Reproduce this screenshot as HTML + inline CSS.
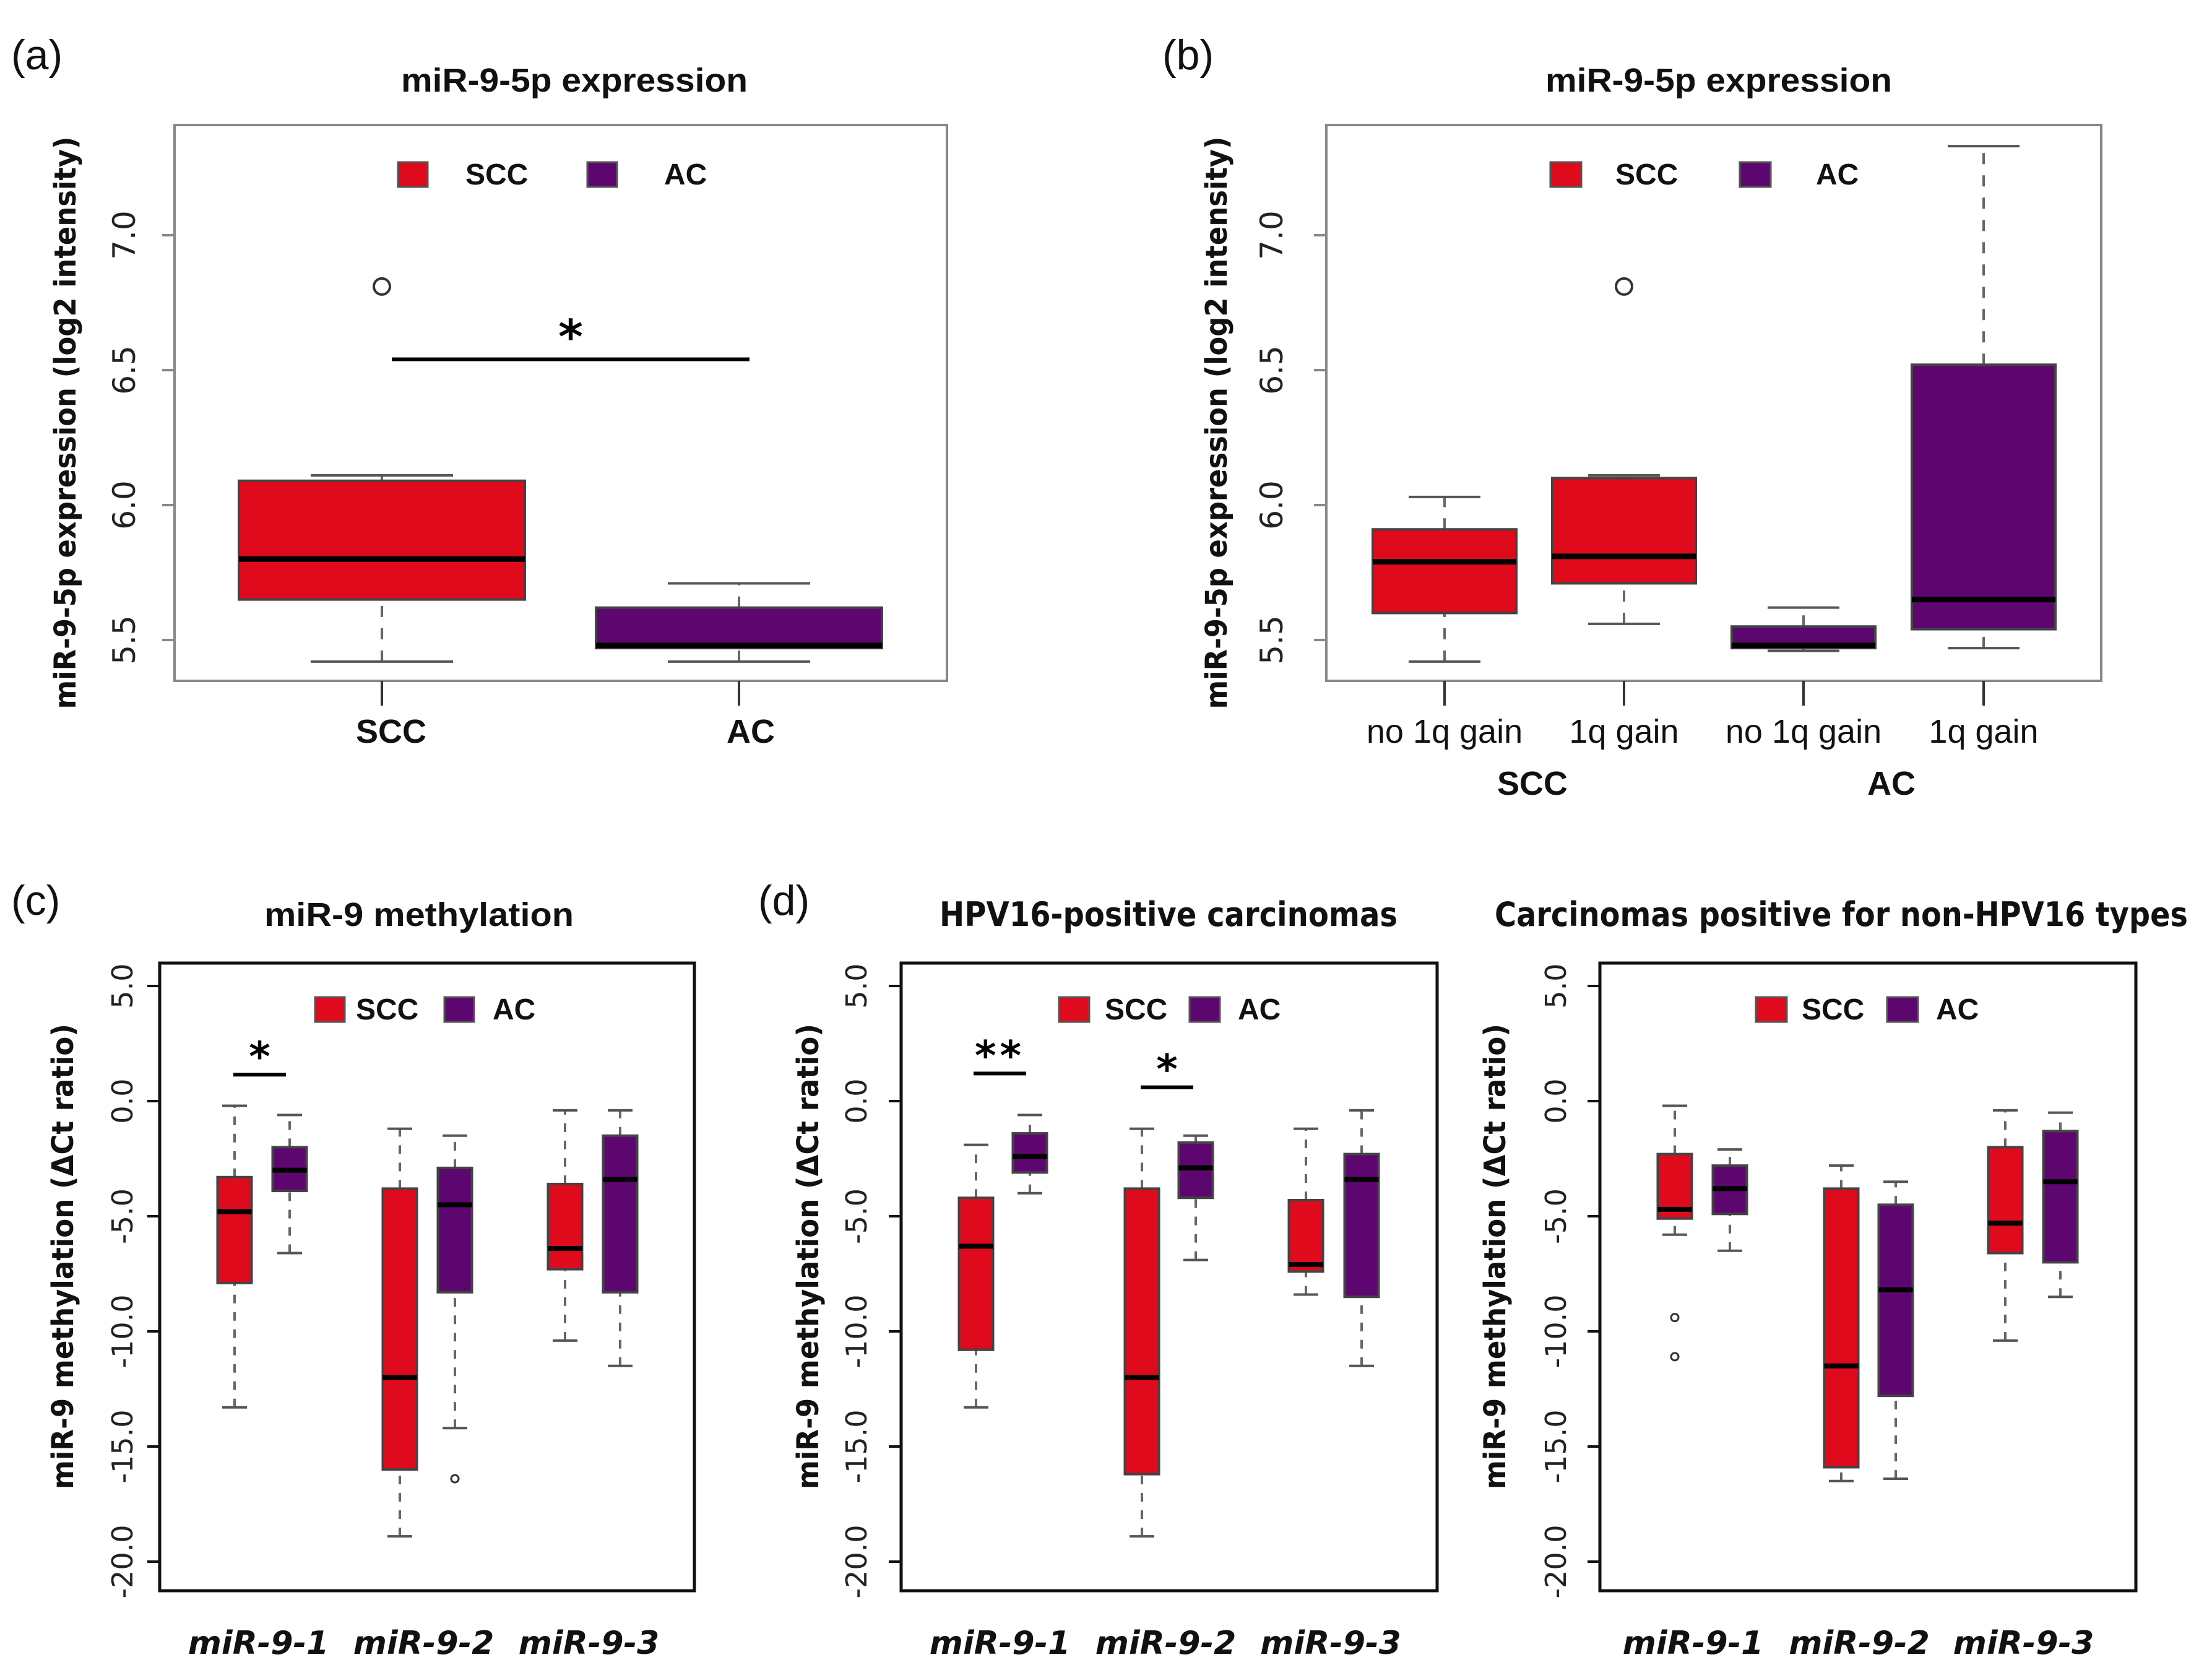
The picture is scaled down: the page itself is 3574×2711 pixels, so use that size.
<!DOCTYPE html>
<html><head><meta charset="utf-8">
<style>
html,body{margin:0;padding:0;background:#fff;}
svg{display:block;}
</style></head>
<body>
<svg id="fig" width="3574" height="2711" viewBox="0 0 3574 2711" xmlns="http://www.w3.org/2000/svg"></svg>
<script>
// ---------- data ----------
// panel a
const aCategories = ["SCC","AC"];
const aStats = [[5.42,5.65,5.80,6.09,6.11],[5.42,5.47,5.48,5.62,5.71]];
const aOutliers = [[6.81],[]];
const aTicks = [5.5,6.0,6.5,7.0];
// panel b
const bCategories = ["no 1q gain","1q gain","no 1q gain","1q gain"];
const bStats = [[5.42,5.60,5.79,5.91,6.03],[5.56,5.71,5.81,6.10,6.11],[5.46,5.47,5.48,5.55,5.62],[5.47,5.54,5.65,6.52,7.33]];
const bOutliers = [[],[6.81],[],[]];
const bGroups = ["SCC","SCC","AC","AC"];
// panel c
const geneCategories = ["miR-9-1","miR-9-2","miR-9-3"];
const cStats = [[-13.3,-7.9,-4.8,-3.3,-0.2],[-6.6,-3.9,-3.0,-2.0,-0.6],[-18.9,-16.0,-12.0,-3.8,-1.2],[-14.2,-8.3,-4.5,-2.9,-1.5],[-10.4,-7.3,-6.4,-3.6,-0.4],[-11.5,-8.3,-3.4,-1.5,-0.4]];
const cOutliers = [[],[],[],[-16.4],[],[]];
// panel d
const dStats = [[-13.3,-10.8,-6.3,-4.2,-1.9],[-4.0,-3.1,-2.4,-1.4,-0.6],[-18.9,-16.2,-12.0,-3.8,-1.2],[-6.9,-4.2,-2.9,-1.8,-1.5],[-8.4,-7.4,-7.1,-4.3,-1.2],[-11.5,-8.5,-3.4,-2.3,-0.4]];
const dOutliers = [[],[],[],[],[],[]];
// panel e
const eStats = [[-5.8,-5.1,-4.7,-2.3,-0.2],[-6.5,-4.9,-3.8,-2.8,-2.1],[-16.5,-15.9,-11.5,-3.8,-2.8],[-16.4,-12.8,-8.2,-4.5,-3.5],[-10.4,-6.6,-5.3,-2.0,-0.4],[-8.5,-7.0,-3.5,-1.3,-0.5]];
const eOutliers = [[-9.4,-11.1],[],[],[],[],[]];
const methTicks = [5,0,-5,-10,-15,-20];
const methTickLabels = ["5.0","0.0","-5.0","-10.0","-15.0","-20.0"];

// ---------- helpers ----------
const NS="http://www.w3.org/2000/svg";
const svg=document.getElementById('fig');
const RED="#df0a1b", PUR="#5e0670";
function mk(tag,attrs,parent){const e=document.createElementNS(NS,tag);for(const k in attrs)e.setAttribute(k,attrs[k]);(parent||svg).appendChild(e);return e;}
function txt(s,attrs,parent){const e=mk('text',attrs,parent);e.textContent=s;return e;}

function drawPanel(p){
  const g=mk('g',{});
  
  
  const y=v=>p.y0+(v-p.v0)*(p.y1-p.y0)/(p.v1-p.v0);
  const thick=p.bottom;
  const fr=mk('rect',{x:p.L,y:p.T,width:p.R-p.L,height:p.B-p.T,fill:'none',stroke:thick?'#111':'#888',"stroke-width":thick?5:4},g);
  
  
  p.ticks.forEach((t,i)=>{
    const yy=y(t);
    const tl=mk('line',{x1:p.L-20,x2:p.L,y1:yy,y2:yy,stroke:thick?'#111':'#888',"stroke-width":4},g);
    
    
    const lab=txt(p.tickLabels[i],{x:0,y:0,transform:`translate(${p.tickX},${yy}) rotate(-90)`,"text-anchor":"middle","font-family":"DejaVu Sans, sans-serif","font-size":p.tickFs,fill:'#222'},g);
    
    
  });
  const yt=txt(p.ytitle,{x:0,y:0,transform:`translate(${p.ytX},${(p.T+p.B)/2+p.ytDy}) rotate(-90)`,"text-anchor":"middle","font-family":"DejaVu Sans, sans-serif","font-weight":"bold","font-size":p.ytFs,fill:'#111',textLength:p.ytLen,lengthAdjust:"spacingAndGlyphs"},g);
  
  
  const tt=txt(p.title,{x:p.titleX,y:p.titleY,"text-anchor":"middle","font-family":p.titleFont,"font-weight":"bold","font-size":p.titleFs,fill:'#111',textLength:p.titleLen,lengthAdjust:"spacingAndGlyphs"},g);
  
  
  if(p.label){
    const pl=txt(p.label,{x:p.labelX,y:p.labelY,"font-family":"Liberation Sans, sans-serif","font-size":68,fill:'#111'},g);
    
    
  }
  p.legend.forEach((l,i)=>{
    const r=mk('rect',{x:l.x,y:l.y,width:l.w,height:l.h,fill:i?PUR:RED,stroke:'#555',"stroke-width":3},g);
    
    
    const t=txt(i?'AC':'SCC',{x:l.tx,y:l.y+l.h-4,"font-family":"Liberation Sans, sans-serif","font-weight":"bold","font-size":p.legFs,fill:'#111'},g);
    
    
  });
  p.stats.forEach((s,i)=>{
    const cx=p.centers[i], hw=p.bw/2, col=p.colors[i];
    const bg=mk('g',{},g);
    
    
    const dash=thick?'14,14':'18,18';
    mk('line',{x1:cx,x2:cx,y1:y(s[0]),y2:y(s[1]),stroke:'#666',"stroke-width":4,"stroke-dasharray":dash},bg);
    mk('line',{x1:cx,x2:cx,y1:y(s[3]),y2:y(s[4]),stroke:'#666',"stroke-width":4,"stroke-dasharray":dash},bg);
    mk('line',{x1:cx-p.cap,x2:cx+p.cap,y1:y(s[0]),y2:y(s[0]),stroke:'#555',"stroke-width":4},bg);
    mk('line',{x1:cx-p.cap,x2:cx+p.cap,y1:y(s[4]),y2:y(s[4]),stroke:'#555',"stroke-width":4},bg);
    mk('rect',{x:cx-hw,y:y(s[3]),width:p.bw,height:y(s[1])-y(s[3]),fill:col,stroke:'#444',"stroke-width":4},bg);
    mk('line',{x1:cx-hw,x2:cx+hw,y1:y(s[2]),y2:y(s[2]),stroke:'#000',"stroke-width":thick?8:9},bg);
    (p.outliers[i]||[]).forEach(o=>{
      const c=mk('circle',{cx:cx,cy:y(o),r:p.outR,fill:'none',stroke:'#333',"stroke-width":thick?3:4},bg);
      
      
    });
  });
  p.xlabels.forEach(l=>{
    const t=txt(l.s,{x:l.x,y:l.y,"text-anchor":"middle","font-family":l.font,"font-weight":l.bold?'bold':'normal',"font-style":l.italic?'italic':'normal',"font-size":l.fs,fill:'#111'},g);
    
    
  });
  (p.xticks||[]).forEach(x=>{
    const l=mk('line',{x1:x,x2:x,y1:p.B,y2:p.B+40,stroke:'#333',"stroke-width":4},g);
    
    
  });
  (p.sig||[]).forEach(sg=>{
    const yy=y(sg.v);
    const l=mk('line',{x1:sg.x1,x2:sg.x2,y1:yy,y2:yy,stroke:'#000',"stroke-width":sg.w||6},g);
    
    
    const t=txt(sg.s,{x:(sg.x1+sg.x2)/2,y:yy-sg.dy,"text-anchor":"middle","font-family":"DejaVu Sans, sans-serif","font-weight":"bold","font-size":sg.fs,fill:'#000',"letter-spacing":sg.ls||0},g);
    
    
  });
}

drawPanel({name:'panel-a',label:'(a)',labelX:18,labelY:112,
  L:282,R:1530,T:202,B:1100,y0:816,v0:6,y1:380,v1:7,
  ticks:aTicks,tickLabels:aTicks.map(t=>t.toFixed(1)),tickX:218,tickFs:50,
  ytitle:'miR-9-5p expression (log2 intensity)',ytX:122,ytDy:32,ytFs:48,ytLen:925,
  title:'miR-9-5p expression',titleX:928,titleY:148,titleFont:'Liberation Sans, sans-serif',titleFs:54,titleLen:560,
  legend:[{x:643,y:262,w:48,h:40,tx:752},{x:949,y:262,w:48,h:40,tx:1073}],legFs:48,
  stats:aStats,outliers:aOutliers,centers:[617,1194],bw:462,cap:115,colors:[RED,PUR],outR:13,
  xticks:[617,1194],
  xlabels:[{s:aCategories[0],x:632,y:1200,fs:54,bold:1,font:'Liberation Sans, sans-serif'},{s:aCategories[1],x:1213,y:1200,fs:54,bold:1,font:'Liberation Sans, sans-serif'}],
  sig:[{v:6.54,x1:633,x2:1211,s:'*',dy:10,fs:76}]
});
const bCenters=[2334,2624,2914,3205];
drawPanel({name:'panel-b',label:'(b)',labelX:1878,labelY:112,
  L:2143,R:3395,T:202,B:1100,y0:816,v0:6,y1:380,v1:7,
  ticks:aTicks,tickLabels:aTicks.map(t=>t.toFixed(1)),tickX:2072,tickFs:50,
  ytitle:'miR-9-5p expression (log2 intensity)',ytX:1982,ytDy:32,ytFs:48,ytLen:925,
  title:'miR-9-5p expression',titleX:2777,titleY:148,titleFont:'Liberation Sans, sans-serif',titleFs:54,titleLen:560,
  legend:[{x:2505,y:262,w:50,h:40,tx:2610},{x:2811,y:262,w:50,h:40,tx:2934}],legFs:48,
  stats:bStats,outliers:bOutliers,centers:bCenters,bw:232,cap:58,colors:bGroups.map(g=>g==='SCC'?RED:PUR),outR:13,
  xticks:bCenters,
  xlabels:bCategories.map((c,i)=>({s:c,x:bCenters[i],y:1200,fs:54,font:'Liberation Sans, sans-serif'})).concat([
    {s:'SCC',x:2476,y:1284,fs:54,bold:1,font:'Liberation Sans, sans-serif'},{s:'AC',x:3056,y:1284,fs:54,bold:1,font:'Liberation Sans, sans-serif'}])
});
function bottomPanel(o){
  drawPanel(Object.assign({
    T:1556,B:2570,y0:1779,v0:0,y1:1593,v1:5,
    ticks:methTicks,tickLabels:methTickLabels,tickFs:46,
    ytitle:'miR-9 methylation (ΔCt ratio)',ytDy:-33,ytFs:48,ytLen:752,
    titleY:1496,titleFs:54,legFs:48,
    bw:55,cap:20,colors:[RED,PUR,RED,PUR,RED,PUR],outR:6,bottom:true
  },o));
}
const cC=[379,468,646,735,913,1002];
bottomPanel({name:'panel-c',label:'(c)',labelX:18,labelY:1478,L:258,R:1122,tickX:214,ytX:118,
  title:'miR-9 methylation',titleX:677,titleFont:'Liberation Sans, sans-serif',titleLen:500,
  legend:[{x:509,y:1611,w:48,h:40,tx:575},{x:718,y:1611,w:48,h:40,tx:796}],
  stats:cStats,outliers:cOutliers,centers:cC,
  xlabels:geneCategories.map((c,i)=>({s:c,x:(cC[2*i]+cC[2*i+1])/2-6,y:2672,fs:52,bold:1,italic:1,font:'DejaVu Sans, sans-serif'})),
  sig:[{v:1.15,x1:377,x2:462,s:'*',dy:6,fs:66,w:6}]
});
const dC=[1577,1664,1845,1932,2110,2200];
bottomPanel({name:'panel-d',label:'(d)',labelX:1225,labelY:1478,L:1456,R:2322,tickX:1400,ytX:1322,
  title:'HPV16-positive carcinomas',titleX:1888,titleFont:'DejaVu Sans, sans-serif',titleLen:740,
  legend:[{x:1711,y:1611,w:49,h:40,tx:1785},{x:1922,y:1611,w:49,h:40,tx:2000}],
  stats:dStats,outliers:dOutliers,centers:dC,
  xlabels:geneCategories.map((c,i)=>({s:c,x:(dC[2*i]+dC[2*i+1])/2-5,y:2672,fs:52,bold:1,italic:1,font:'DejaVu Sans, sans-serif'})),
  sig:[{v:1.2,x1:1573,x2:1658,s:'**',dy:6,fs:66,w:6,ls:6},{v:0.6,x1:1843,x2:1928,s:'*',dy:6,fs:66,w:6}]
});
const eC=[2706,2795,2975,3063,3240,3329];
bottomPanel({name:'panel-e',label:'',labelX:0,labelY:0,L:2585,R:3451,tickX:2530,ytX:2432,
  title:'Carcinomas positive for non-HPV16 types',titleX:2975,titleFont:'DejaVu Sans, sans-serif',titleLen:1120,
  legend:[{x:2837,y:1611,w:50,h:40,tx:2911},{x:3049,y:1611,w:50,h:40,tx:3128}],
  stats:eStats,outliers:eOutliers,centers:eC,
  xlabels:geneCategories.map((c,i)=>({s:c,x:(eC[2*i]+eC[2*i+1])/2-15,y:2672,fs:52,bold:1,italic:1,font:'DejaVu Sans, sans-serif'}))
});
</script>
</body></html>
